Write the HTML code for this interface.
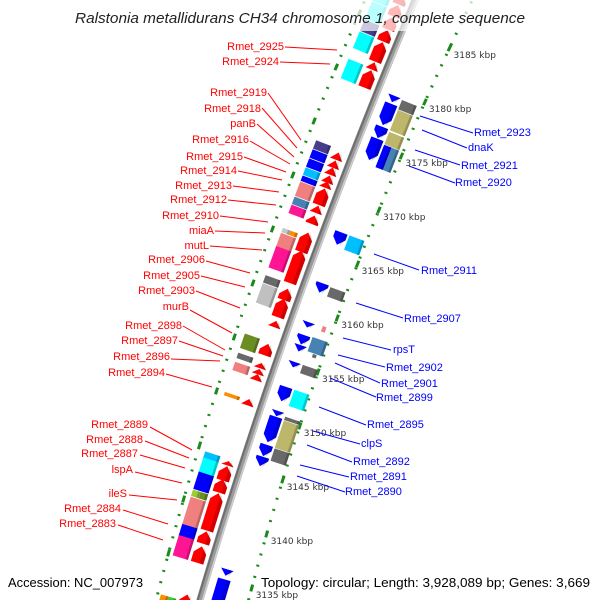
<!DOCTYPE html>
<html><head><meta charset="utf-8"><style>
html,body{margin:0;padding:0;background:#fff;width:600px;height:600px;overflow:hidden;}
svg{display:block;overflow:hidden;font-family:"Liberation Sans",sans-serif;}
.lr{fill:#ff0000;font-size:11px;text-anchor:end;}
.lb{fill:#0000ff;font-size:11px;}
.tk{fill:#333;font-size:9px;font-family:"DejaVu Sans","Liberation Sans",sans-serif;}
</style></head><body>
<svg id="chart" width="600" height="600" viewBox="0 0 600 600" xmlns="http://www.w3.org/2000/svg">
<rect width="600" height="600" fill="#fff"/>
<g id="rings"></g>
<g id="backbone"></g>
<g id="genes"></g>
<g id="ticks"></g>
<g stroke="#ff0000" stroke-width="1">
<line x1="285" y1="47" x2="337" y2="50"/><line x1="280" y1="62" x2="330" y2="64"/>
<line x1="268" y1="93" x2="301" y2="140"/><line x1="262" y1="108" x2="297" y2="148"/>
<line x1="257" y1="124" x2="294" y2="157"/><line x1="250" y1="141" x2="290" y2="164"/>
<line x1="244" y1="157" x2="286" y2="172"/><line x1="238" y1="171" x2="282" y2="180"/>
<line x1="233" y1="186" x2="279" y2="192"/><line x1="228" y1="200" x2="276" y2="205"/>
<line x1="220" y1="216" x2="268" y2="222"/><line x1="215" y1="231" x2="265" y2="233"/>
<line x1="210" y1="246" x2="262" y2="250"/><line x1="206" y1="261" x2="250" y2="273"/>
<line x1="201" y1="276" x2="245" y2="287"/><line x1="196" y1="291" x2="240" y2="308"/>
<line x1="190" y1="310" x2="232" y2="333"/><line x1="183" y1="326" x2="225" y2="350"/>
<line x1="179" y1="341" x2="223" y2="356"/><line x1="171" y1="359" x2="220" y2="361"/>
<line x1="166" y1="374" x2="212" y2="387"/><line x1="150" y1="427" x2="192" y2="450"/>
<line x1="145" y1="441" x2="189" y2="458"/><line x1="140" y1="455" x2="185" y2="468"/>
<line x1="135" y1="472" x2="182" y2="483"/><line x1="129" y1="495" x2="177" y2="500"/>
<line x1="123" y1="510" x2="168" y2="524"/><line x1="118" y1="525" x2="163" y2="540"/>
</g>
<g>
<text class="lr" x="284" y="50">Rmet_2925</text>
<text class="lr" x="279" y="65">Rmet_2924</text>
<text class="lr" x="267" y="96">Rmet_2919</text>
<text class="lr" x="261" y="112">Rmet_2918</text>
<text class="lr" x="256" y="127">panB</text>
<text class="lr" x="249" y="143">Rmet_2916</text>
<text class="lr" x="243" y="160">Rmet_2915</text>
<text class="lr" x="237" y="174">Rmet_2914</text>
<text class="lr" x="232" y="189">Rmet_2913</text>
<text class="lr" x="227" y="203">Rmet_2912</text>
<text class="lr" x="219" y="219">Rmet_2910</text>
<text class="lr" x="214" y="234">miaA</text>
<text class="lr" x="209" y="249">mutL</text>
<text class="lr" x="205" y="263">Rmet_2906</text>
<text class="lr" x="200" y="279">Rmet_2905</text>
<text class="lr" x="195" y="294">Rmet_2903</text>
<text class="lr" x="189" y="310">murB</text>
<text class="lr" x="182" y="329">Rmet_2898</text>
<text class="lr" x="178" y="344">Rmet_2897</text>
<text class="lr" x="170" y="360">Rmet_2896</text>
<text class="lr" x="165" y="376">Rmet_2894</text>
<text class="lr" x="148" y="428">Rmet_2889</text>
<text class="lr" x="143" y="443">Rmet_2888</text>
<text class="lr" x="138" y="457">Rmet_2887</text>
<text class="lr" x="133" y="473">lspA</text>
<text class="lr" x="127" y="497">ileS</text>
<text class="lr" x="121" y="512">Rmet_2884</text>
<text class="lr" x="116" y="527">Rmet_2883</text>
</g>
<g stroke="#0000ff" stroke-width="1">
<line x1="420" y1="116" x2="473" y2="133"/><line x1="422" y1="130" x2="467" y2="148"/>
<line x1="415" y1="150" x2="460" y2="165"/><line x1="409" y1="166" x2="455" y2="183"/>
<line x1="374" y1="254" x2="419" y2="270"/><line x1="356" y1="303" x2="403" y2="318"/>
<line x1="343" y1="338" x2="391" y2="350"/><line x1="338" y1="355" x2="385" y2="367"/>
<line x1="335" y1="363" x2="380" y2="383"/><line x1="330" y1="378" x2="376" y2="397"/>
<line x1="319" y1="407" x2="366" y2="425"/><line x1="313" y1="431" x2="360" y2="444"/>
<line x1="307" y1="445" x2="352" y2="462"/><line x1="300" y1="465" x2="349" y2="477"/>
<line x1="297" y1="476" x2="345" y2="492"/>
</g>
<g>
<text class="lb" x="474" y="136">Rmet_2923</text>
<text class="lb" x="468" y="151">dnaK</text>
<text class="lb" x="461" y="169">Rmet_2921</text>
<text class="lb" x="455" y="186">Rmet_2920</text>
<text class="lb" x="421" y="274">Rmet_2911</text>
<text class="lb" x="404" y="322">Rmet_2907</text>
<text class="lb" x="393" y="353">rpsT</text>
<text class="lb" x="386" y="371">Rmet_2902</text>
<text class="lb" x="381" y="387">Rmet_2901</text>
<text class="lb" x="376" y="401">Rmet_2899</text>
<text class="lb" x="367" y="428">Rmet_2895</text>
<text class="lb" x="361" y="447">clpS</text>
<text class="lb" x="353" y="465">Rmet_2892</text>
<text class="lb" x="350" y="480">Rmet_2891</text>
<text class="lb" x="345" y="495">Rmet_2890</text>
</g>
<rect x="0" y="0" width="600" height="31" fill="#fff" fill-opacity="0.72"/>
<text x="300" y="23" text-anchor="middle" font-style="italic" font-size="15" fill="#222" textLength="450" lengthAdjust="spacingAndGlyphs">Ralstonia metallidurans CH34 chromosome 1, complete sequence</text>
<text x="8" y="587" font-size="13" fill="#000" textLength="135" lengthAdjust="spacingAndGlyphs">Accession: NC_007973</text>
<text x="261" y="587" font-size="13" fill="#000" textLength="329" lengthAdjust="spacingAndGlyphs">Topology: circular; Length: 3,928,089 bp; Genes: 3,669</text>
</svg>
<script>
const tickKbp = [3190,3185,3180,3175,3170,3165,3160,3155,3150,3145,3140,3135,3130];
const geneStart = [3190.0,3188.4,3186.6,3185.4,3182.7,3174.6,3173.7,3172.8,3171.9,3171.1,3170.5,3169.0,3168.2,3165.9,3165.9,3165.4,3164.1,3161.2,3160.4,3155.4,3153.5,3152.6,3149.6,3143.7,3143.1,3141.7,3139.9,3139.9,3139.2,3136.5,3135.4,3129.5,3129.5,
 3190.0,3189.0,3187.8,3186.5,3185.3,3183.3,3182.5,3174.3,3173.5,3172.8,3172.0,3171.4,3170.7,3169.0,3168.0,3166.3,3164.5,3160.7,3159.7,3157.5,3155.2,3153.3,3152.7,3152.2,3149.7,3143.5,3143.0,3141.7,3140.3,3136.5,3135.0,3130.2,
 3181.1,3180.3,3178.0,3176.8,3167.4,3162.3,3158.4,3157.1,3156.1,3154.4,3151.9,3149.5,3148.9,3146.1,3144.9,3133.6,3132.6,
 3181.0,3180.0,3177.8,3176.5,3176.5,3167.4,3162.2,3158.5,3157.2,3155.7,3154.4,3151.9,3149.2,3148.8,3146.0];
const geneEnd = [3188.4,3186.6,3185.4,3183.7,3180.7,3173.7,3172.8,3171.9,3171.1,3170.5,3169.0,3168.2,3167.3,3165.4,3165.4,3163.9,3161.9,3160.4,3158.4,3153.9,3152.9,3151.7,3149.2,3142.9,3141.6,3139.9,3139.2,3139.2,3136.4,3135.2,3133.3,3128.6,3128.6,
 3189.0,3187.8,3186.5,3185.3,3183.3,3182.5,3180.7,3173.5,3172.7,3172.0,3171.2,3170.7,3169.0,3168.2,3167.1,3164.3,3161.2,3159.5,3157.8,3156.8,3154.0,3152.7,3152.1,3151.5,3149.0,3143.0,3141.5,3140.3,3136.5,3135.2,3133.3,3128.8,
 3180.4,3178.1,3176.8,3174.6,3166.1,3161.3,3157.8,3156.1,3155.4,3153.8,3150.4,3148.9,3146.3,3144.9,3143.9,3132.9,3129.0,
 3180.0,3177.9,3176.5,3174.2,3174.2,3165.9,3161.2,3157.9,3155.7,3155.3,3153.5,3150.2,3148.8,3146.0,3144.7];
const geneLane = ['L2','L2','L2','L2','L2','L2','L2','L2','L2','L2','L2','L2','L2','L2o','L2i','L2','L2','L2','L2','L2','L2','L2','L2','L2','L2','L2','L2o','L2i','L2','L2','L2','L2o','L2i',
 'L1','L1','L1','L1','L1','L1','L1','L1','L1','L1','L1','L1','L1','L1','L1','L1','L1','L1','L1','L1','L1','L1','L1','L1','L1','L1','L1','L1','L1','L1','L1','L1',
 'R1','R1','R1','R1','R1','R1','R1','R1','R1','R1','R1','R1','R1','R1','R1','R1','R1',
 'R2','R2','R2','R2i','R2o','R2','R2','R2t','R2','R2t','R2','R2','R2','R2','R2'];
const geneColor = ['#00ffff','#00ffff','#483d8b','#00ffff','#00ffff','#483d8b','#0000ff','#0000ff','#00bfff','#0000ff','#f08080','#4682b4','#ff1493','#c8c8c8','#ff8c00','#f08080','#ff1493','#696969','#c0c0c0','#6b8e23','#696969','#f08080','#ff8c00','#00bfff','#00ffff','#0000ff','#9acd32','#6b8e23','#f08080','#0000ff','#ff1493','#ff8c00','#32cd32',
 '#ff0000','#ff0000','#ff0000','#ff0000','#ff0000','#ff0000','#ff0000','#ff0000','#ff0000','#ff0000','#ff0000','#ff0000','#ff0000','#ff0000','#ff0000','#ff0000','#ff0000','#ff0000','#ff0000','#ff0000','#ff0000','#ff0000','#ff0000','#ff0000','#ff0000','#ff0000','#ff0000','#ff0000','#ff0000','#ff0000','#ff0000','#ff0000',
 '#0000ff','#0000ff','#0000ff','#0000ff','#0000ff','#0000ff','#0000ff','#0000ff','#0000ff','#0000ff','#0000ff','#0000ff','#0000ff','#0000ff','#0000ff','#0000ff','#0000ff',
 '#696969','#bdb76b','#bdb76b','#0000ff','#4682b4','#00bfff','#696969','#f08080','#4682b4','#696969','#696969','#00ffff','#696969','#bdb76b','#696969'];

const NS = 'http://www.w3.org/2000/svg';
const f = y => 415 - 0.4208*y + 0.000104*y*y;
const fd = y => -0.4208 + 0.000208*y;
const gR = y => 472.3 - 0.483*y + 0.0001835*y*y;
const gRd = y => -0.483 + 0.000367*y;
const gL = y => 365 - 0.4386*y + 0.0001508*y*y;
const gLd = y => -0.4386 + 0.0003016*y;
const yScale = k => (3190 - k) * 10;
const tickYR = k => 48 + (3185 - k) * 10.8;
const tickYL = k => 67 + (3185 - k) * 10.8;
const laneD = {L2:-31,L2o:-35,L2i:-27,L1:-13.5,R1:17.5,R2:34,R2i:30,R2o:38,R2t:34};
const laneW = {L2:16,L2o:8,L2i:8,L1:13,R1:13,R2:16,R2i:8,R2o:8,R2t:4};

function mk(tag, attrs, parent){
  const e = document.createElementNS(NS, tag);
  for (const k in attrs) e.setAttribute(k, attrs[k]);
  parent.appendChild(e);
  return e;
}
function curvePath(fn, y0, y1, dx){
  let d = '';
  for (let y = y0; y <= y1; y += 4) d += (d ? 'L' : 'M') + (fn(y) + (dx||0)).toFixed(2) + ',' + y + ' ';
  return d;
}

const rings = document.getElementById('rings');
[[gL,'left'],[gR,'right']].forEach(([fn,side]) => {
  const p = mk('path', {d: curvePath(fn, -9, 603), fill:'none', stroke:'#1a8a1a', 'stroke-width':'3', 'stroke-dasharray':'2 9.6'}, rings);
  
  
});
tickKbp.forEach(k => {
  [[gR,gRd,tickYR(k),'right'],[gL,gLd,tickYL(k),'left']].forEach(([fn,fnd,y,side]) => {
    if (y > 598) return;
    const s = fnd(y), n = Math.sqrt(1+s*s), ux = s/n*3.5, uy = 1/n*3.5;
    const x = fn(y);
    const t = mk('line', {x1:(x-ux).toFixed(2), y1:(y-uy).toFixed(2), x2:(x+ux).toFixed(2), y2:(y+uy).toFixed(2), stroke:'#1a8a1a', 'stroke-width':'3'}, rings);
    
    
  });
});

const bb = document.getElementById('backbone');
const b1 = mk('path', {d: curvePath(f, -9, 603), fill:'none', stroke:'#9a9a9a', 'stroke-width':'7'}, bb);


const b2 = mk('path', {d: curvePath(f, -9, 603, -2.2), fill:'none', stroke:'#6e6e6e', 'stroke-width':'2'}, bb);


const b3 = mk('path', {d: curvePath(f, -9, 603, 2.6), fill:'none', stroke:'#cfcfcf', 'stroke-width':'1.6'}, bb);



const gg = document.getElementById('genes');
geneStart.forEach((ks, i) => {
  const ya = yScale(ks), yb = yScale(geneEnd[i]);
  const yc = (ya + yb) / 2;
  const s = fd(yc), nrm = Math.sqrt(1+s*s);
  const len = Math.max(Math.abs(yb - ya) * nrm - 0.7, 1.8);
  const ang = Math.atan(-s) * 180 / Math.PI;
  const lane = geneLane[i], d = laneD[lane], w = laneW[lane], col = geneColor[i];
  const grp = mk('g', {transform: 'translate(' + f(yc).toFixed(2) + ',' + yc.toFixed(2) + ') rotate(' + ang.toFixed(2) + ')'}, gg);
  
  
  const xl = d - w/2, xr = d + w/2, t0 = -len/2, t1 = len/2;
  if (lane === 'L1' || lane === 'R1') {
    const hl = Math.min(7, len);
    let pts;
    if (lane === 'L1') {
      pts = len <= hl + 1 ? [[xl,t1],[d,t0],[xr,t1]] : [[xl,t0+hl],[d,t0],[xr,t0+hl],[xr,t1],[xl,t1]];
    } else {
      pts = len <= hl + 1 ? [[xl,t0],[d,t1],[xr,t0]] : [[xl,t1-hl],[d,t1],[xr,t1-hl],[xr,t0],[xl,t0]];
    }
    const a = mk('polygon', {points: pts.map(p => p[0].toFixed(2)+','+p[1].toFixed(2)).join(' '), fill: col}, grp);
    
    
    const sh = mk('polygon', {points: pts.map(p => (p[0] > d ? p[0] : d + w*0.2).toFixed(2)+','+p[1].toFixed(2)).join(' '), fill: '#000', 'fill-opacity':'0.18'}, grp);
    
    
  } else {
    const r = mk('rect', {x: xl.toFixed(2), y: t0.toFixed(2), width: w, height: len.toFixed(2), fill: col}, grp);
    
    
    if (w >= 7) {
      const sd = mk('rect', {x: (xr - 2.5).toFixed(2), y: t0.toFixed(2), width: 2.5, height: len.toFixed(2), fill: '#000', 'fill-opacity': '0.22'}, grp);
      
      
    }
  }
});

const tg = document.getElementById('ticks');
tickKbp.forEach(k => {
  if (k === 3190 || k === 3130) return;
  const y = tickYR(k);
  const t = mk('text', {x: (gR(y) + 4).toFixed(1), y: (y + 10).toFixed(1), class: 'tk'}, tg);
  
  
  if (k === 3135) t.setAttribute('fill', '#cccccc');
  t.textContent = k + ' kbp';
});
</script>
</body></html>
